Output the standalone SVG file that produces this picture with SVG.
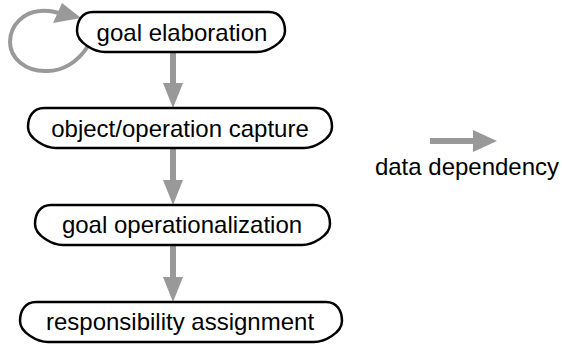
<svg xmlns="http://www.w3.org/2000/svg" width="562" height="345" viewBox="0 0 562 345">
<style>
.node{fill:#fff;stroke:#000;stroke-width:2.5}
.lbl{font-family:"Liberation Sans",Arial,sans-serif;font-size:24px;fill:#000;text-anchor:middle}
.shaft{stroke:#999;stroke-width:6;fill:none}
.loop{stroke:#999;stroke-width:4;fill:none}
.head{fill:#999;stroke:none}
</style>
<rect width="562" height="345" fill="#fff"/>
<g id="connectors">
  <path class="loop" d="M 88 46 C 78 62, 62 72, 45 71 C 25 71, 10 58, 10 42 C 10 24, 25 12, 40 11 C 47 10, 52 11, 59 13"/>
  <polygon class="head" points="62,3 81,18 53,23"/>
  <line class="shaft" x1="173" y1="52" x2="173" y2="85"/>
  <polygon class="head" points="163,83 183,83 173,108"/>
  <line class="shaft" x1="173" y1="148" x2="173" y2="182"/>
  <polygon class="head" points="163,180 183,180 173,205"/>
  <line class="shaft" x1="173" y1="245" x2="173" y2="279"/>
  <polygon class="head" points="163,277 183,277 173,302"/>
</g>
<g id="goal-elaboration">
  <path class="node" d="M 93 12 H 269 C 280 12, 285 21, 285 31 C 285 43, 267 52, 257 52 H 105 C 95 52, 77 43, 77 31 C 77 21, 82 12, 93 12 Z"/>
  <text class="lbl" x="182" y="41">goal elaboration</text>
</g>
<g id="object-operation-capture">
  <path class="node" d="M 44 108 H 316 C 327 108, 332 117, 332 127 C 332 139, 314 148, 304 148 H 56 C 46 148, 28 139, 28 127 C 28 117, 33 108, 44 108 Z"/>
  <text class="lbl" x="180" y="137">object/operation capture</text>
</g>
<g id="goal-operationalization">
  <path class="node" d="M 51 205 H 314 C 325 205, 330 214, 330 224 C 330 236, 312 245, 302 245 H 63 C 53 245, 35 236, 35 224 C 35 214, 40 205, 51 205 Z"/>
  <text class="lbl" x="182" y="233">goal operationalization</text>
</g>
<g id="responsibility-assignment">
  <path class="node" d="M 36 302 H 326 C 337 302, 342 311, 342 321 C 342 333, 324 342, 314 342 H 48 C 38 342, 20 333, 20 321 C 20 311, 25 302, 36 302 Z"/>
  <text class="lbl" x="180" y="330">responsibility assignment</text>
</g>
<g id="legend">
  <line class="shaft" x1="430" y1="141" x2="475" y2="141"/>
  <polygon class="head" points="473,130 473,152 497,141"/>
  <text class="lbl" x="467" y="175">data dependency</text>
</g>
</svg>
